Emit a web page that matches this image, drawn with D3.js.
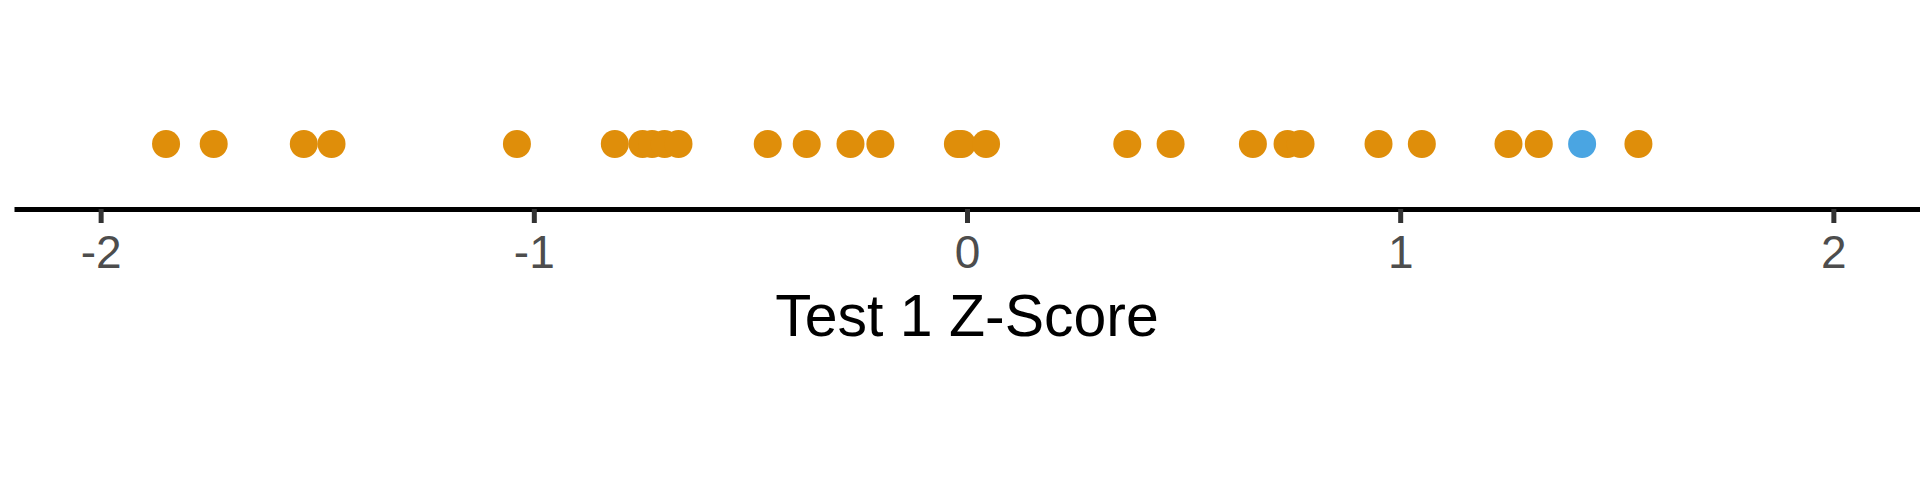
<!DOCTYPE html>
<html>
<head>
<meta charset="utf-8">
<script src="https://cdn.jsdelivr.net/npm/d3@7"></script>
<style>
  html, body { margin: 0; padding: 0; background: #ffffff; }
  svg { display: block; }
</style>
</head>
<body>
<div id="chart"></div>
<script>
// ---- data ----
const zScores = [-1.849, -1.739, -1.531, -1.467, -1.039, -0.813, -0.749, -0.727, -0.698, -0.666,
                 -0.460, -0.370, -0.269, -0.200, -0.021, -0.012, 0.044, 0.370, 0.470, 0.660,
                 0.740, 0.770, 0.950, 1.050, 1.250, 1.320, 1.420, 1.550];
const groups = ["other", "other", "other", "other", "other", "other", "other", "other", "other", "other",
                "other", "other", "other", "other", "other", "other", "other", "other", "other", "other",
                "other", "other", "other", "other", "other", "other", "highlight", "other"];
const tickValues = [-2, -1, 0, 1, 2];
const tickLabels = ["-2", "-1", "0", "1", "2"];
const axisTitle = "Test 1 Z-Score";
const groupNames = ["other", "highlight"];
const groupColors = ["#DF8E0A", "#4AA5E2"];

// ---- layout ----
const W = 1920, H = 480;
const svg = d3.select("#chart").append("svg").attr("width", W).attr("height", H);

const x = d3.scaleLinear().domain([-2.2, 2.2]).range([14, 1920]);
const color = d3.scaleOrdinal().domain(groupNames).range(groupColors);
const axisY = 209;
const pointY = 144;

// points
svg.append("g").selectAll("circle")
  .data(zScores.map((v, i) => ({ v, g: groups[i] })))
  .join("circle")
  .attr("cx", d => x(d.v))
  .attr("cy", pointY)
  .attr("r", 14)
  .attr("fill", d => color(d.g));

// axis
const axis = d3.axisBottom(x)
  .tickValues(tickValues)
  .tickFormat((d, i) => tickLabels[i])
  .tickSizeOuter(0)
  .tickSizeInner(14)
  .tickPadding(16);

const gAxis = svg.append("g").attr("transform", `translate(0,${axisY})`).call(axis);
gAxis.select(".domain").attr("stroke", "#000").attr("stroke-width", 5);
gAxis.selectAll(".tick line").attr("stroke", "#333333").attr("stroke-width", 5);
gAxis.selectAll(".tick text")
  .attr("fill", "#4D4D4D")
  .attr("font-family", "'Liberation Sans', Arial, sans-serif")
  .attr("font-size", 46)
  .attr("dy", null)
  .attr("y", 59);

// axis title
svg.append("text")
  .attr("x", (x.range()[0] + x.range()[1]) / 2)
  .attr("y", 336)
  .attr("text-anchor", "middle")
  .attr("font-family", "'Liberation Sans', Arial, sans-serif")
  .attr("font-size", 59)
  .attr("fill", "#000")
  .text(axisTitle);
</script>
</body>
</html>
